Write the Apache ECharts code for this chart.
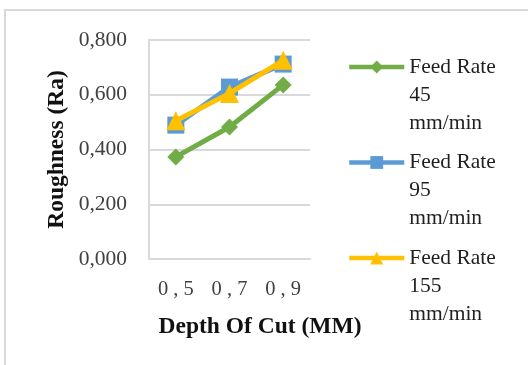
<!DOCTYPE html>
<html>
<head>
<meta charset="utf-8">
<script src="https://cdn.jsdelivr.net/npm/echarts@6/dist/echarts.min.js"></script>
<style>
  html, body { margin: 0; padding: 0; background: #ffffff; }
  #chart { width: 528px; height: 365px; }
</style>
</head>
<body>
<div id="chart"></div>
<script>
// Depth of cut (mm) on the x axis
const depthLabels = ['0 , 5', '0 , 7', '0 , 9'];

// Surface roughness Ra per feed rate
const feed45 = [0.373, 0.482, 0.636];
const feed95 = [0.489, 0.628, 0.712];
const feed155 = [0.505, 0.605, 0.726];

const seriesNames = ['Feed Rate\n45\nmm/min', 'Feed Rate\n95\nmm/min', 'Feed Rate\n155\nmm/min'];
const seriesColors = ['#70AD47', '#5B9BD5', '#FFC000'];
const seriesSymbols = ['diamond', 'rect', 'triangle'];
const symbolSizes = [17, 17, 19];

const serif = '"Liberation Serif", "Times New Roman", serif';

const chart = echarts.init(document.getElementById('chart'), null, { renderer: 'canvas' });

const seriesData = [feed45, feed95, feed155];

chart.setOption({
  backgroundColor: '#ffffff',
  animation: false,
  graphic: [{
    type: 'rect',
    shape: { x: 5, y: 10, width: 700, height: 500 },
    style: { fill: 'none', stroke: '#d9d9d9', lineWidth: 2 },
    silent: true
  }],
  grid: { left: 149, right: 218, top: 40, bottom: 106 },
  legend: {
    orient: 'vertical',
    left: 347,
    top: -3,
    padding: 0,
    itemWidth: 55,
    itemHeight: 16,
    itemGap: -44.5,
    data: seriesNames,
    lineStyle: { width: 4.5 },
    // two blank lines above keep the icon level with the first text line
    formatter: name => '\n\n' + name,
    textStyle: {
      fontFamily: serif,
      fontSize: 21.5,
      color: '#1f1f1f',
      lineHeight: 28
    }
  },
  xAxis: {
    type: 'category',
    data: depthLabels,
    boundaryGap: true,
    axisLine: { lineStyle: { color: '#d9d9d9', width: 2 } },
    axisTick: { show: false },
    axisLabel: { fontFamily: serif, fontSize: 20.5, color: '#404040', margin: 20 },
    name: 'Depth Of Cut (MM)',
    nameLocation: 'middle',
    nameGap: 56,
    nameTextStyle: {
      fontFamily: serif, fontSize: 23.5, fontWeight: 'bold', color: '#111111',
      padding: [0, 0, 0, 61]
    }
  },
  yAxis: {
    type: 'value',
    min: 0,
    max: 0.8,
    interval: 0.2,
    axisLine: { show: true, lineStyle: { color: '#d9d9d9', width: 2 } },
    axisTick: { show: false },
    splitLine: { lineStyle: { color: '#d9d9d9', width: 2 } },
    axisLabel: {
      fontFamily: serif, fontSize: 21.5, color: '#404040', margin: 22,
      formatter: v => v.toFixed(3).replace('.', ',')
    },
    name: 'Roughness (Ra)',
    nameLocation: 'middle',
    nameGap: 80,
    nameTextStyle: { fontFamily: serif, fontSize: 23.5, fontWeight: 'bold', color: '#111111' }
  },
  series: seriesData.map((values, i) => ({
    name: seriesNames[i],
    type: 'line',
    data: values,
    symbol: seriesSymbols[i],
    symbolSize: symbolSizes[i],
    lineStyle: { color: seriesColors[i], width: 5 },
    itemStyle: { color: seriesColors[i] },
    z: 2 + i
  }))
});
</script>
</body>
</html>
